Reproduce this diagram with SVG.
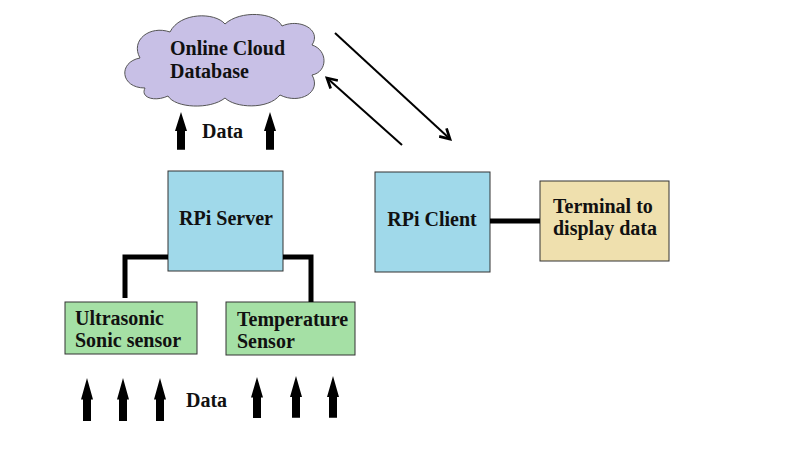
<svg xmlns="http://www.w3.org/2000/svg" width="801" height="453" viewBox="0 0 801 453">
<style>
.t{font-family:"Liberation Serif","Times New Roman",serif;font-weight:bold;font-size:20px;fill:#111}
.box{stroke:#333;stroke-width:1}
.rpi{fill:#a0d9ea}
.sen{fill:#a5e0a5}
.term{fill:#efe0ae}
.wire{fill:none;stroke:#000;stroke-width:5}
.diag{fill:none;stroke:#000;stroke-width:2}
.arr{fill:#000}
</style>
<defs>
<marker id="open" viewBox="0 0 12 12" refX="10" refY="6" markerWidth="13" markerHeight="13" markerUnits="userSpaceOnUse" orient="auto">
<path d="M1,1 L10,6 L1,11" fill="none" stroke="#000" stroke-width="2.5"/>
</marker>
<path id="up" d="M0,0 L6,22 L4,22 L4,44 L-4,44 L-4,22 L-6,22 Z"/>
</defs>
<rect width="801" height="453" fill="#fff"/>

<g id="cloud">
<path d="M145,88 C120,88 118,62 140,58 C130,40 150,25 170,32 C180,12 215,12 225,24 C240,10 275,12 282,26 C300,18 322,30 312,45 C328,50 328,72 312,75 C322,92 300,105 280,95 C268,110 235,108 225,98 C210,110 175,108 168,96 C155,102 140,98 145,88 Z" fill="#c8c0e6" stroke="#555" stroke-width="1"/>
<text class="t" x="170" y="55">Online Cloud</text>
<text class="t" x="170" y="78">Database</text>
</g>

<g id="rpi-server">
<rect class="box rpi" x="168" y="171" width="115" height="100"/>
<text class="t" x="226" y="225" text-anchor="middle">RPi Server</text>
</g>

<g id="rpi-client">
<rect class="box rpi" x="375" y="172" width="115" height="100"/>
<text class="t" x="432" y="226" text-anchor="middle">RPi Client</text>
</g>

<g id="terminal">
<rect class="box term" x="540" y="181" width="129" height="80"/>
<text class="t" x="553" y="213">Terminal to</text>
<text class="t" x="553" y="235">display data</text>
</g>

<g id="ultrasonic">
<rect class="box sen" x="65" y="302" width="132" height="52"/>
<text class="t" x="75" y="325">Ultrasonic</text>
<text class="t" x="75" y="347">Sonic sensor</text>
</g>

<g id="temperature">
<rect class="box sen" x="226" y="302" width="129" height="53"/>
<text class="t" x="237" y="326">Temperature</text>
<text class="t" x="237" y="348">Sensor</text>
</g>

<g id="connectors">
<path class="wire" d="M168,257 H125 V298"/>
<path class="wire" d="M283,257 H311 V302"/>
<path class="wire" d="M490,221 H540"/>
<path class="diag" d="M335,33 L450,139" marker-end="url(#open)"/>
<path class="diag" d="M402,145 L327,78" marker-end="url(#open)"/>
<use href="#up" class="arr" transform="translate(181,112) scale(1,0.86)"/>
<use href="#up" class="arr" transform="translate(270,112) scale(1,0.86)"/>
<use href="#up" class="arr" transform="translate(87,378) scale(1,0.98)"/>
<use href="#up" class="arr" transform="translate(123,378) scale(1,0.98)"/>
<use href="#up" class="arr" transform="translate(160,378) scale(1,0.98)"/>
<use href="#up" class="arr" transform="translate(257,377) scale(1,0.93)"/>
<use href="#up" class="arr" transform="translate(296,376) scale(1,0.95)"/>
<use href="#up" class="arr" transform="translate(333,376) scale(1,0.95)"/>
</g>
<text class="t" x="202" y="138">Data</text>
<text class="t" x="186" y="407">Data</text>
</svg>
